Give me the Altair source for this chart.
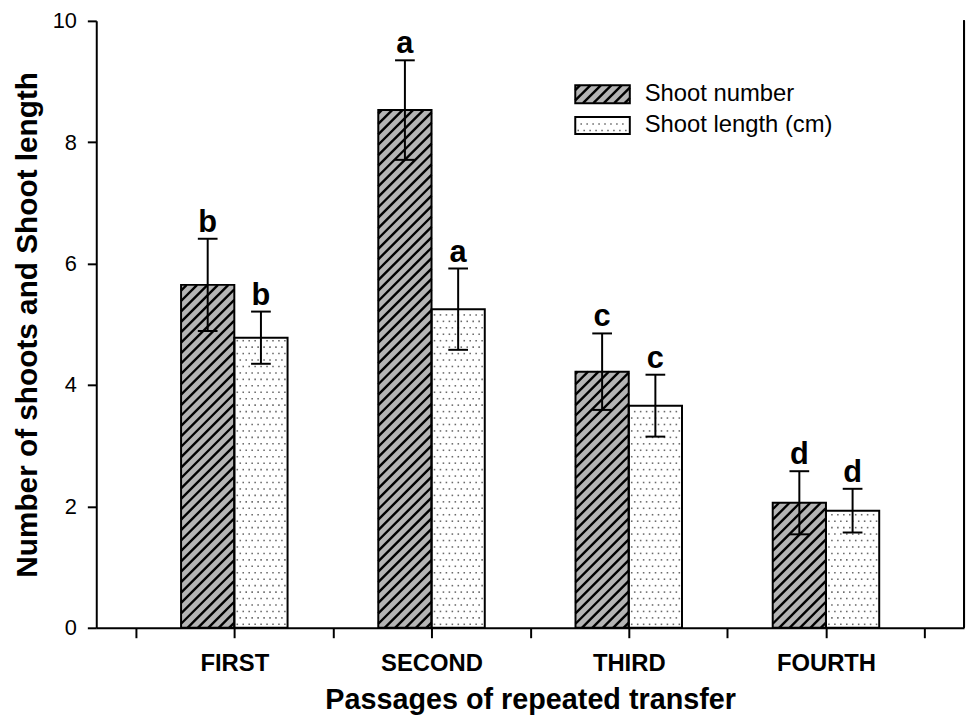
import altair as alt
import pandas as pd

# ---------------- data ----------------
passages = ["FIRST", "SECOND", "THIRD", "FOURTH"]
passage_pos = [1, 2, 3, 4]
series_names = ["Shoot number", "Shoot length (cm)"]
shoot_number = [5.65, 8.53, 4.22, 2.06]
shoot_number_se = [0.76, 0.82, 0.63, 0.52]
shoot_length = [4.78, 5.25, 3.66, 1.93]
shoot_length_se = [0.43, 0.67, 0.51, 0.36]
letters_number = ["b", "a", "c", "d"]
letters_length = ["b", "a", "c", "d"]
x_title = "Passages of repeated transfer"
y_title = "Number of shoots and Shoot length"

# ---------------- layout / style ----------------
W, H = 875, 612
XDOM = [0.3, 4.7]
YDOM = [0, 10]
BARW = 0.27
CAPW = 0.05
PX_X = W / (XDOM[1] - XDOM[0])
PX_Y = H / (YDOM[1] - YDOM[0])
HATCH_BG = "#b4b4b4"
DOT_COLOR = "#6a6a6a"
FONT = "Liberation Sans"

# legend geometry in plot pixels (from top-left of plot area)
LEG_X0, LEG_X1 = 483, 538
LEG_BOXES = [(65, 83), (97, 114)]
LEG_TEXT_X = 553


def px_to_x(px):
    return XDOM[0] + px / PX_X


def py_to_y(py):
    return YDOM[1] - py / PX_Y


# bars table
rows = []
for i, p in enumerate(passage_pos):
    rows.append(dict(series=series_names[0], cat=passages[i], x=p - BARW, x2=p,
                     y=shoot_number[i], y2=0, se=shoot_number_se[i], letter=letters_number[i]))
    rows.append(dict(series=series_names[1], cat=passages[i], x=p, x2=p + BARW,
                     y=shoot_length[i], y2=0, se=shoot_length_se[i], letter=letters_length[i]))
bars = pd.DataFrame(rows)
bars["xc"] = (bars["x"] + bars["x2"]) / 2
bars["lo"] = bars["y"] - bars["se"]
bars["hi"] = bars["y"] + bars["se"]
bars["cx1"] = bars["xc"] - CAPW
bars["cx2"] = bars["xc"] + CAPW

# legend boxes in data units
leg_rows = []
for k, (t, b) in enumerate(LEG_BOXES):
    leg_rows.append(dict(series=series_names[k], x=px_to_x(LEG_X0), x2=px_to_x(LEG_X1),
                         y=py_to_y(t), y2=py_to_y(b), tx=px_to_x(LEG_TEXT_X),
                         ty=(py_to_y(t) + py_to_y(b)) / 2, label=series_names[k]))
legend = pd.DataFrame(leg_rows)

rects = pd.concat([bars[["series", "x", "x2", "y", "y2"]], legend[["series", "x", "x2", "y", "y2"]]],
                  ignore_index=True)


def hatch(x0, x1, y0, y1, spacing=10.5):
    lo_y, hi_y = min(y0, y1), max(y0, y1)
    Wp = (x1 - x0) * PX_X
    Hp = (hi_y - lo_y) * PX_Y
    segs = []
    c = -Wp + spacing / 2
    while c < Hp:
        xs = max(0.0, -c)
        xe = min(Wp, Hp - c)
        if xe > xs:
            segs.append(dict(x=x0 + xs / PX_X, y=lo_y + (xs + c) / PX_Y,
                             x2=x0 + xe / PX_X, y2=lo_y + (xe + c) / PX_Y))
        c += spacing
    return segs


def dots(x0, x1, y0, y1, sx=6.0, sy=6.5):
    lo_y, hi_y = min(y0, y1), max(y0, y1)
    Wp = (x1 - x0) * PX_X
    Hp = (hi_y - lo_y) * PX_Y
    pts = []
    j = 0
    Y = 3.5
    while Y < Hp - 1.5:
        X = 3.0 + (3.0 if j % 2 else 0.0)
        while X < Wp - 1.5:
            pts.append(dict(x=x0 + X / PX_X, y=lo_y + Y / PX_Y))
            X += sx
        Y += sy
        j += 1
    return pts


hatch_segs, dot_pts = [], []
for _, r in rects.iterrows():
    if r["series"] == series_names[0]:
        hatch_segs += hatch(r["x"], r["x2"], r["y2"], r["y"])
    else:
        dot_pts += dots(r["x"], r["x2"], r["y2"], r["y"])
hatch_df = pd.DataFrame(hatch_segs)
dot_df = pd.DataFrame(dot_pts)

label_expr = " : ".join(
    [f"datum.value == {p} ? '{n}'" for p, n in zip(passage_pos, passages)]) + " : ''"

X_AXIS = alt.Axis(values=[0.5, 1, 1.5, 2, 2.5, 3, 3.5, 4, 4.5], labelExpr=label_expr,
                  title=x_title, tickSize=10, labelFontSize=24, labelFontWeight="bold",
                  labelPadding=14, titleFontSize=29, titleFontWeight="bold", titlePadding=10,
                  labelFlush=False)
Y_AXIS = alt.Axis(values=[0, 2, 4, 6, 8, 10], title=y_title, tickSize=9, labelFontSize=22,
                  labelPadding=11, titleFontSize=30, titleFontWeight="bold", titlePadding=10)
XS = alt.Scale(domain=XDOM, nice=False, zero=False)
YS = alt.Scale(domain=YDOM, nice=False)


def X(field="x"):
    return alt.X(f"{field}:Q", scale=XS, axis=X_AXIS)


def Y(field="y"):
    return alt.Y(f"{field}:Q", scale=YS, axis=Y_AXIS)


fill_scale = alt.Scale(domain=series_names, range=[HATCH_BG, "white"])

base_fill = alt.Chart(rects).mark_rect(strokeWidth=0).encode(
    x=X("x"), x2="x2", y=Y("y"), y2="y2",
    fill=alt.Fill("series:N", scale=fill_scale, legend=None))

hatch_layer = alt.Chart(hatch_df).mark_rule(color="black", strokeWidth=2.4, strokeCap="butt").encode(
    x=X("x"), x2="x2", y=Y("y"), y2="y2")

dot_layer = alt.Chart(dot_df).mark_square(size=2.5, color=DOT_COLOR, opacity=1).encode(
    x=X("x"), y=Y("y"))

outline = alt.Chart(rects).mark_rect(fill=None, stroke="black", strokeWidth=2).encode(
    x=X("x"), x2="x2", y=Y("y"), y2="y2")

err = alt.Chart(bars).mark_rule(color="black", strokeWidth=2).encode(
    x=X("xc"), y=Y("lo"), y2="hi")
cap_hi = alt.Chart(bars).mark_rule(color="black", strokeWidth=2).encode(
    x=X("cx1"), x2="cx2", y=Y("hi"))
cap_lo = alt.Chart(bars).mark_rule(color="black", strokeWidth=2).encode(
    x=X("cx1"), x2="cx2", y=Y("lo"))

letters = alt.Chart(bars).mark_text(fontSize=31, fontWeight="bold", baseline="alphabetic",
                                    dy=-7, font=FONT, color="black").encode(
    x=X("xc"), y=Y("hi"), text="letter:N")

leg_text = alt.Chart(legend).mark_text(fontSize=24, align="left", baseline="middle",
                                       font=FONT, color="black").encode(
    x=X("tx"), y=Y("ty"), text="label:N")

right_line = alt.Chart(bars).mark_rule(color="black", strokeWidth=2).encode(
    x=alt.value(W), y=alt.value(0), y2=alt.value(H))

chart = alt.layer(base_fill, hatch_layer, dot_layer, outline, err, cap_hi, cap_lo,
                  letters, leg_text, right_line).properties(
    width=W, height=H,
    autosize=alt.AutoSizeParams(type="none"),
    padding={"left": 89, "top": 10, "right": 2, "bottom": 90},
).configure(font=FONT).configure_view(stroke=None).configure_axis(
    grid=False, domainColor="black", domainWidth=2, tickColor="black", tickWidth=2,
    labelColor="black", titleColor="black", labelFont=FONT, titleFont=FONT)

chart.save("out.html", embed_options={"renderer": "svg", "actions": False})
